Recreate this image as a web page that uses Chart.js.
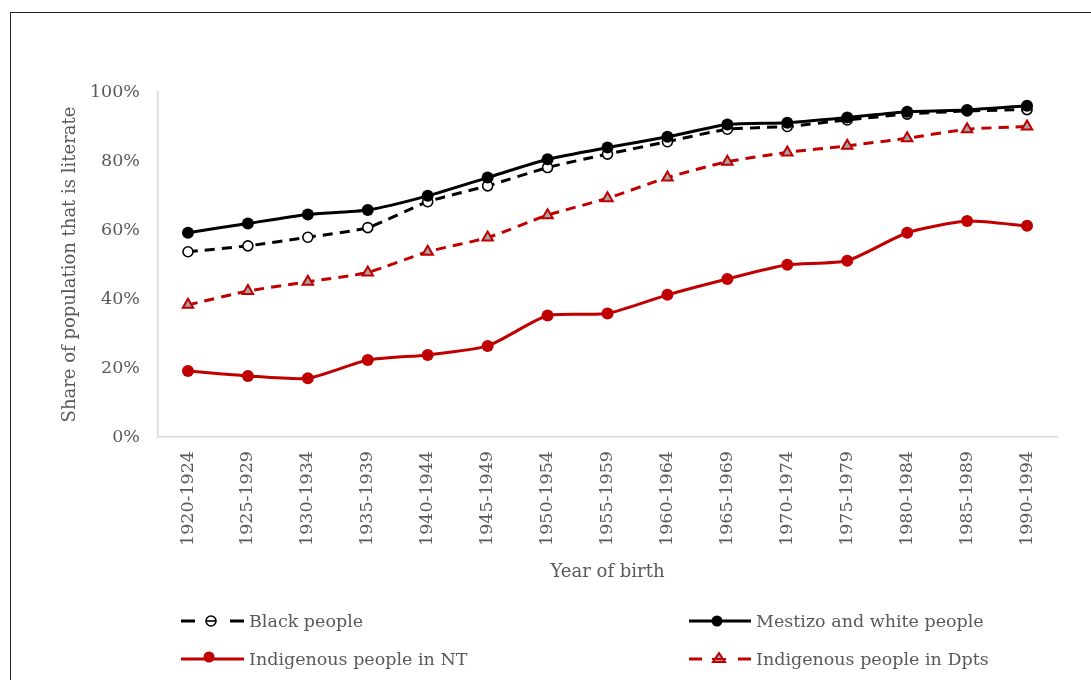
<!DOCTYPE html>
<html>
<head>
<meta charset="utf-8">
<script src="https://cdn.jsdelivr.net/npm/chart.js@4.4.1/dist/chart.umd.min.js"></script>
<style>
  html, body { margin: 0; padding: 0; background: #fff; }
  body { width: 1091px; height: 680px; overflow: hidden; position: relative; font-family: "DejaVu Serif", serif; }
  #frame { position: absolute; left: 10px; top: 12px; width: 1200px; height: 800px; border: 1px solid #222; box-sizing: border-box; }
  #wrap { position: absolute; left: 0; top: 0; width: 1091px; height: 680px; }
  .item { position: absolute; height: 24px; display: flex; align-items: center; color: #595959; font-size: 17.5px; white-space: nowrap; }
  .item svg { margin-right: 5px; }
</style>
</head>
<body>
<div id="frame"></div>
<div id="wrap"><canvas id="literacyChart" width="1091" height="680"></canvas></div>

<div class="item" style="left:181px; top:609px;">
  <svg width="63" height="16"><line x1="0" y1="8" x2="14" y2="8" stroke="#000" stroke-width="3"/><line x1="49" y1="8" x2="63" y2="8" stroke="#000" stroke-width="3"/><circle cx="30" cy="8" r="5" fill="#fff" stroke="#000" stroke-width="1.6"/><line x1="25" y1="8" x2="35" y2="8" stroke="#000" stroke-width="1.6"/></svg>
  <span>Black people</span>
</div>
<div class="item" style="left:689px; top:609px;">
  <svg width="62" height="16"><line x1="0" y1="8" x2="62" y2="8" stroke="#000" stroke-width="3"/><circle cx="28" cy="8" r="5.5" fill="#000"/></svg>
  <span>Mestizo and white people</span>
</div>
<div class="item" style="left:181px; top:647px;">
  <svg width="63" height="16"><line x1="0" y1="8" x2="63" y2="8" stroke="#c00000" stroke-width="3"/><circle cx="28" cy="6" r="5.5" fill="#c00000"/></svg>
  <span>Indigenous people in NT</span>
</div>
<div class="item" style="left:689px; top:647px;">
  <svg width="62" height="16"><line x1="0" y1="8" x2="13" y2="8" stroke="#c00000" stroke-width="3"/><line x1="49" y1="8" x2="62" y2="8" stroke="#c00000" stroke-width="3"/><polygon points="30,2 36,11 24,11" fill="#a6a6a6" stroke="#c00000" stroke-width="2"/><line x1="23" y1="8" x2="37" y2="8" stroke="#c00000" stroke-width="2"/></svg>
  <span>Indigenous people in Dpts</span>
</div>

<script>
const categories = ['1920-1924', '1925-1929', '1930-1934', '1935-1939', '1940-1944',
    '1945-1949', '1950-1954', '1955-1959', '1960-1964', '1965-1969',
    '1970-1974', '1975-1979', '1980-1984', '1985-1989', '1990-1994'];

// share literate, percent
const blackPeople    = [53.7, 55.4, 57.9, 60.7, 68.2, 72.8, 78.1, 82.0, 85.6, 89.2, 90.0, 91.9, 93.6, 94.5, 94.9];
const mestizoWhite   = [59.2, 61.9, 64.5, 65.8, 69.9, 75.2, 80.5, 83.9, 87.0, 90.6, 91.1, 92.6, 94.3, 94.8, 96.0];
const indigenousNT   = [19.1, 17.7, 17.0, 22.3, 23.8, 26.4, 35.2, 35.8, 41.2, 45.8, 49.9, 51.1, 59.2, 62.6, 61.2];
const indigenousDpts = [38.3, 42.3, 45.0, 47.7, 53.7, 57.8, 64.3, 69.2, 75.2, 79.8, 82.5, 84.4, 86.6, 89.2, 90.0];

const yTicks = [0, 20, 40, 60, 80, 100];

const red = '#c00000';
const grey = '#595959';
const axisLine = '#d9d9d9';
const fontFamily = '"DejaVu Serif", serif';

const ctx = document.getElementById('literacyChart').getContext('2d');

new Chart(ctx, {
    type: 'line',
    data: {
        labels: categories,
        datasets: [
            {
                label: 'Black people',
                data: blackPeople,
                borderColor: '#000',
                borderWidth: 3,
                borderDash: [10, 7],
                pointStyle: 'circle',
                pointRadius: 5,
                pointBorderWidth: 1.6,
                pointBackgroundColor: '#fff',
                pointBorderColor: '#000',
                tension: 0.2,
                order: 1
            },
            {
                label: 'Mestizo and white people',
                data: mestizoWhite,
                borderColor: '#000',
                borderWidth: 3,
                pointStyle: 'circle',
                pointRadius: 6,
                pointBorderWidth: 0,
                pointBackgroundColor: '#000',
                tension: 0.2,
                order: 0
            },
            {
                label: 'Indigenous people in NT',
                data: indigenousNT,
                borderColor: red,
                borderWidth: 3,
                pointStyle: 'circle',
                pointRadius: 6,
                pointBorderWidth: 0,
                pointBackgroundColor: red,
                tension: 0.2,
                order: 2
            },
            {
                label: 'Indigenous people in Dpts',
                data: indigenousDpts,
                borderColor: red,
                borderWidth: 3,
                borderDash: [10, 7],
                pointStyle: 'triangle',
                pointRadius: 6,
                pointBorderWidth: 2,
                pointBackgroundColor: '#a6a6a6',
                pointBorderColor: red,
                tension: 0.2,
                order: 2
            }
        ]
    },
    options: {
        responsive: false,
        animation: false,
        layout: { padding: { left: 56, top: 92, right: 34, bottom: 93 } },
        plugins: {
            legend: { display: false },
            tooltip: { enabled: false }
        },
        scales: {
            x: {
                offset: true,
                grid: { drawOnChartArea: false, drawTicks: false, offset: true },
                border: { display: true, color: axisLine, width: 1.5 },
                ticks: {
                    color: grey,
                    font: { family: fontFamily, size: 17.5 },
                    minRotation: 90,
                    maxRotation: 90,
                    padding: 14,
                    autoSkip: false
                },
                title: {
                    display: true,
                    text: 'Year of birth',
                    color: grey,
                    font: { family: fontFamily, size: 18 },
                    padding: { top: 4, bottom: 4 }
                },
                afterFit: (scale) => { scale.height = 150; }
            },
            y: {
                min: 0,
                max: 100,
                grid: { drawOnChartArea: false, drawTicks: false },
                border: { display: true, color: axisLine, width: 1.5 },
                ticks: {
                    color: grey,
                    font: { family: fontFamily, size: 17.5 },
                    padding: 18,
                    callback: (v) => v + '%'
                },
                afterBuildTicks: (scale) => { scale.ticks = yTicks.map(v => ({ value: v })); },
                title: {
                    display: true,
                    text: 'Share of population that is literate',
                    color: grey,
                    font: { family: fontFamily, size: 18 },
                    padding: { top: 4, bottom: 4 }
                },
                afterFit: (scale) => { scale.width = 102; }
            }
        }
    }
});
</script>
</body>
</html>
